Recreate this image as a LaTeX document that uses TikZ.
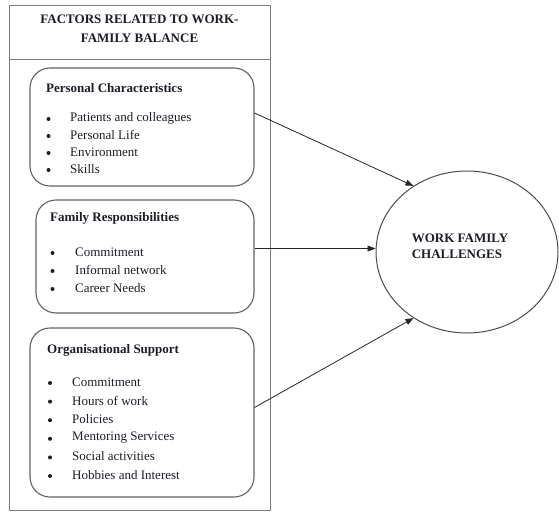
\documentclass[tikz,border=0pt]{standalone}
\usepackage{fontspec}
\setmainfont{Liberation Serif}
\usetikzlibrary{positioning, arrows.meta, shapes.geometric}
\definecolor{Frame}{HTML}{7C7C7C}
\definecolor{Ink}{HTML}{1C1C26}
\newcommand{\figsize}{\fontsize{13}{15.5}\selectfont}

\begin{document}
\begin{tikzpicture}[x=1pt, y=-1pt,
    group/.style={draw=black!62, line width=1.1pt, rounded corners=20pt, minimum width=224pt, inner sep=0pt},
    head/.style={anchor=west, inner sep=0pt, font=\figsize\bfseries},
    item/.style={anchor=west, inner sep=0pt},
    dot/.style={circle, fill=Ink, inner sep=0pt, minimum size=4pt},
    arr/.style={-{Triangle[length=8pt, width=6pt]}, line width=0.8pt, black!85},
    every node/.style={text=Ink, font=\figsize}
]
\useasboundingbox (0,0) rectangle (559,511);

% outer frame with its title
\node[draw=Frame, line width=1pt, minimum width=261pt, minimum height=504pt, inner sep=0pt] (frame) at (139.5,258) {};
\draw[Frame, line width=1pt] (9,60) -- (270,60);
\node[align=center, font=\fontsize{13}{19}\selectfont\bfseries] (title) at (139.5,29) {FACTORS RELATED TO WORK-\\FAMILY BALANCE};

% Personal characteristics
\node[group, minimum height=118pt] (personal) at (142,127) {};
\node[head] (personalhead) at (46,88) {Personal Characteristics};
\foreach \txt [count=\i] in {Patients and colleagues, Personal Life, Environment, Skills} {
    \node[dot] (pdot\i) at (48.5,102+17*\i) {};
    \node[item] (pitem\i) at (70,101+17*\i) {\txt};
}

% Family responsibilities
\node[group, minimum width=218pt, minimum height=113pt] (family) at (145,256.5) {};
\node[head] (familyhead) at (50,218) {Family Responsibilities};
\foreach \txt [count=\i] in {Commitment, Informal network, Career Needs} {
    \node[dot] (fdot\i) at (52.5,235+18*\i) {};
    \node[item] (fitem\i) at (75,234+18*\i) {\txt};
}

% Organisational support
\node[group, minimum height=169pt] (support) at (142,412.5) {};
\node[head] (supporthead) at (47,350) {Organisational Support};
\foreach \txt [count=\i] in {Commitment, Hours of work, Policies, Mentoring Services, Social activities, Hobbies and Interest} {
    \node[dot] (sdot\i) at (50,364.4+18.6*\i) {};
    \node[item] (sitem\i) at (72,363.4+18.6*\i) {\txt};
}

% outcome
\node[ellipse, draw=black!70, line width=1pt, minimum width=182pt, minimum height=162pt, inner sep=0pt] (challenge) at (467,252) {};
\node[align=left, font=\figsize\bfseries] (challengetxt) at (460,246.5) {WORK FAMILY\\CHALLENGES};

% links
\coordinate (famout) at ([yshift=8pt]family.east);
\draw[arr] ([yshift=14pt]personal.east) -- (challenge.129);
\draw[arr] (famout) -- (famout -| challenge.west);
\draw[arr] ([yshift=5pt]support.east) -- (challenge.231);

\end{tikzpicture}
\end{document}
